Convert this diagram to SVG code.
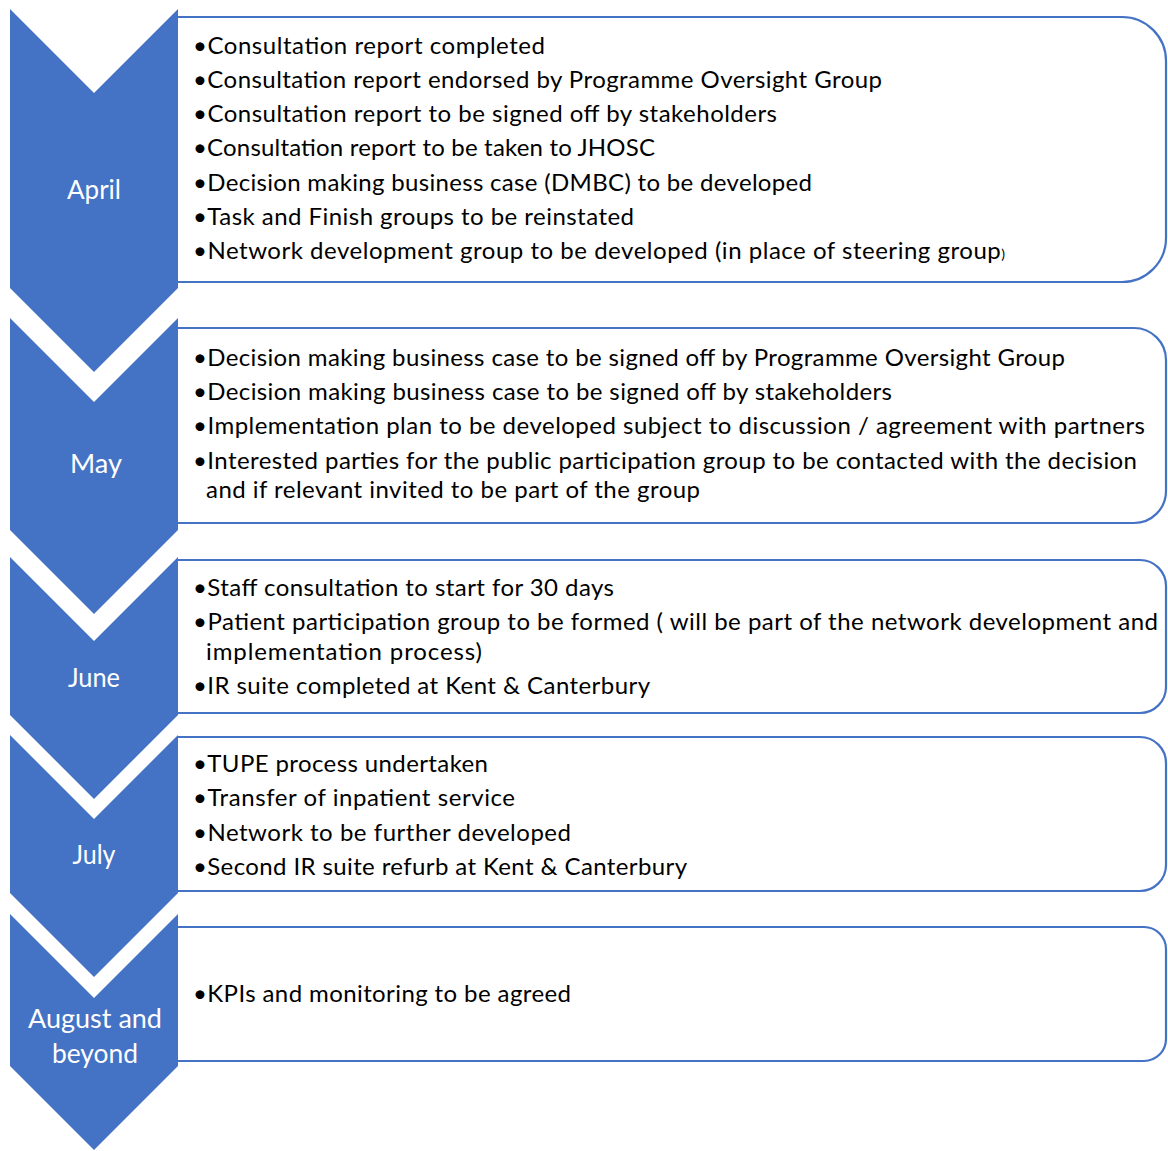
<svg xmlns="http://www.w3.org/2000/svg" width="1168" height="1151" viewBox="0 0 1168 1151">
<style>
.box{fill:#ffffff;stroke:#4472C4;stroke-width:2.2}
.chev{fill:#4472C4}
.lbl{font-family:Lato,"Liberation Sans",sans-serif;font-size:26.5px;fill:#ffffff;text-anchor:middle}
.t{font-family:Lato,"Liberation Sans",sans-serif;font-size:24px;fill:#000000}
</style>
<rect width="1168" height="1151" fill="#ffffff"/>
<g id="box-april">
<path class="box" d="M178,17 H1122 A44,44 0 0 1 1166,61 V238 A44,44 0 0 1 1122,282 H178"/>
<text class="t" x="193" y="54" textLength="352" lengthAdjust="spacing">•Consultation report completed</text>
<text class="t" x="193" y="88" textLength="689" lengthAdjust="spacing">•Consultation report endorsed by Programme Oversight Group</text>
<text class="t" x="193" y="122" textLength="584" lengthAdjust="spacing">•Consultation report to be signed off by stakeholders</text>
<text class="t" x="193" y="156" textLength="462" lengthAdjust="spacing">•Consultation report to be taken to JHOSC</text>
<text class="t" x="193" y="191" textLength="619" lengthAdjust="spacing">•Decision making business case (DMBC) to be developed</text>
<text class="t" x="193" y="225" textLength="441" lengthAdjust="spacing">•Task and Finish groups to be reinstated</text>
<text class="t" x="193" y="259" textLength="812" lengthAdjust="spacing">•Network development group to be developed (in place of steering group<tspan font-size="14">)</tspan></text>
</g>
<g id="box-may">
<path class="box" d="M178,328 H1134 A32,32 0 0 1 1166,360 V491 A32,32 0 0 1 1134,523 H178"/>
<text class="t" x="193" y="366" textLength="872" lengthAdjust="spacing">•Decision making business case to be signed off by Programme Oversight Group</text>
<text class="t" x="193" y="400" textLength="699" lengthAdjust="spacing">•Decision making business case to be signed off by stakeholders</text>
<text class="t" x="193" y="434" textLength="952" lengthAdjust="spacing">•Implementation plan to be developed subject to discussion / agreement with partners</text>
<text class="t" x="193" y="469" textLength="944" lengthAdjust="spacing">•Interested parties for the public participation group to be contacted with the decision</text>
<text class="t" x="206" y="498" textLength="494" lengthAdjust="spacing">and if relevant invited to be part of the group</text>
</g>
<g id="box-june">
<path class="box" d="M178,560 H1140 A26,26 0 0 1 1166,586 V687 A26,26 0 0 1 1140,713 H178"/>
<text class="t" x="193" y="596" textLength="421" lengthAdjust="spacing">•Staff consultation to start for 30 days</text>
<text class="t" x="193" y="630" textLength="965" lengthAdjust="spacing">•Patient participation group to be formed ( will be part of the network development and</text>
<text class="t" x="206" y="660" textLength="276" lengthAdjust="spacing">implementation process)</text>
<text class="t" x="193" y="694" textLength="457" lengthAdjust="spacing">•IR suite completed at Kent &amp; Canterbury</text>
</g>
<g id="box-july">
<path class="box" d="M178,737 H1140 A26,26 0 0 1 1166,763 V865 A26,26 0 0 1 1140,891 H178"/>
<text class="t" x="193" y="772" textLength="295" lengthAdjust="spacing">•TUPE process undertaken</text>
<text class="t" x="193" y="806" textLength="322" lengthAdjust="spacing">•Transfer of inpatient service</text>
<text class="t" x="193" y="841" textLength="378" lengthAdjust="spacing">•Network to be further developed</text>
<text class="t" x="193" y="875" textLength="494" lengthAdjust="spacing">•Second IR suite refurb at Kent &amp; Canterbury</text>
</g>
<g id="box-august">
<path class="box" d="M178,927 H1144 A22,22 0 0 1 1166,949 V1039 A22,22 0 0 1 1144,1061 H178"/>
<text class="t" x="193" y="1002" textLength="378" lengthAdjust="spacing">•KPIs and monitoring to be agreed</text>
</g>
<g id="chevron-april">
<polygon class="chev" points="10,9 94,93 178,9 178,288 94,372 10,288"/>
<text class="lbl" x="94" y="199" textLength="54" lengthAdjust="spacingAndGlyphs">April</text>
</g>
<g id="chevron-may">
<polygon class="chev" points="10,318 94,402 178,318 178,530 94,614 10,530"/>
<text class="lbl" x="96" y="473" textLength="52" lengthAdjust="spacingAndGlyphs">May</text>
</g>
<g id="chevron-june">
<polygon class="chev" points="10,557 94,641 178,557 178,715 94,799 10,715"/>
<text class="lbl" x="94" y="687" textLength="52" lengthAdjust="spacingAndGlyphs">June</text>
</g>
<g id="chevron-july">
<polygon class="chev" points="10,735 94,819 178,735 178,893 94,977 10,893"/>
<text class="lbl" x="94" y="864" textLength="43" lengthAdjust="spacingAndGlyphs">July</text>
</g>
<g id="chevron-august">
<polygon class="chev" points="10,914 94,998 178,914 178,1066 94,1150 10,1066"/>
<text class="lbl" x="95" y="1028" textLength="134" lengthAdjust="spacingAndGlyphs">August and</text>
<text class="lbl" x="95" y="1063" textLength="86" lengthAdjust="spacingAndGlyphs">beyond</text>
</g>
<g id="connectors"></g>
</svg>
